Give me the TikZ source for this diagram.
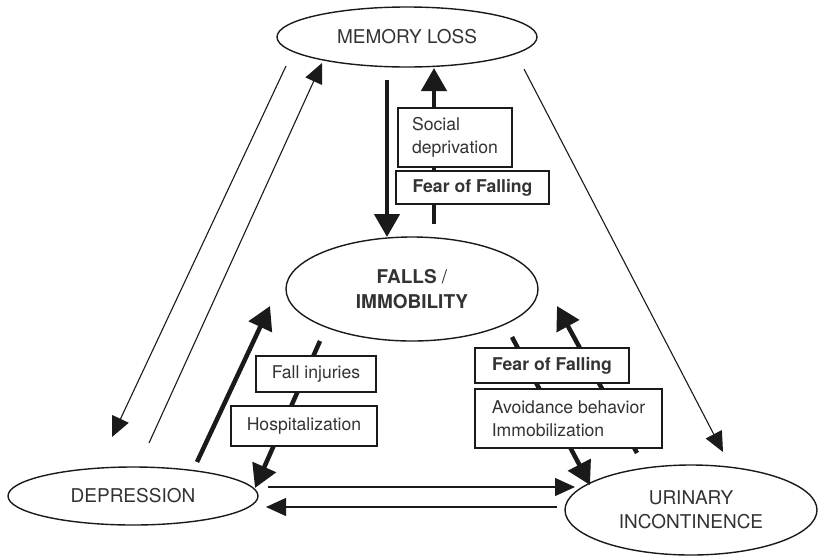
\documentclass[tikz,border=0pt]{standalone}
\usepackage{fontspec}
\setmainfont{TeX Gyre Heros}
\usetikzlibrary{arrows.meta,shapes.geometric}
\definecolor{ink}{HTML}{1A1A1A}
\definecolor{txt}{HTML}{333333}
\begin{document}
\begin{tikzpicture}[x=1pt,y=-1pt,
  state/.style={draw=ink,line width=1.4pt,ellipse,inner sep=0pt,fill=white,
    text=txt,align=center,font=\fontsize{19}{25}\selectfont},
  factor/.style={draw=ink,line width=1.2pt,rectangle,fill=white,inner sep=0pt,
    text=txt,align=left,font=\fontsize{17.6}{22.5}\selectfont},
  strong/.style={draw=ink,line width=4.5pt,
    -{Triangle[length=23pt,width=25pt]}},
  weak/.style={draw=ink,line width=1.1pt,
    -{Triangle[length=20pt,width=18pt]}}]
\useasboundingbox (0,0) rectangle (818,555);

% the four conditions
\node[state,minimum width=260pt,minimum height=60pt] (mem) at (407,37) {MEMORY LOSS};
\node[state,minimum width=252pt,minimum height=104pt] (fall) at (412,289)
  {\textbf{FALLS} /\\\textbf{IMMOBILITY}};
\node[state,minimum width=250pt,minimum height=58pt] (dep) at (133,496) {DEPRESSION};
\node[state,minimum width=252pt,minimum height=90pt,font=\fontsize{19}{24}\selectfont]
  (uri) at (691,510) {URINARY\\INCONTINENCE};

% connector end points
\coordinate (mfA) at (387,80);   \coordinate (mfB) at (387,237);
\coordinate (fmA) at (434,224);  \coordinate (fmB) at (434,68);
\coordinate (dfA) at (197,462);  \coordinate (dfB) at (270,306);
\coordinate (fdA) at (320,341);  \coordinate (fdB) at (255,488);
\coordinate (fuA) at (512,337);  \coordinate (fuB) at (590,485);
\coordinate (ufA) at (637,453);  \coordinate (ufB) at (557,306);
\coordinate (mdA) at (286,66);   \coordinate (mdB) at (112,437);
\coordinate (dmA) at (149,443);  \coordinate (dmB) at (322,63);
\coordinate (muA) at (524,69);   \coordinate (muB) at (723,452);
\coordinate (duA) at (268,487);  \coordinate (duB) at (575,487);
\coordinate (udA) at (557,507);  \coordinate (udB) at (266,507);

% links around the outer triangle
\draw[weak] (mdA) -- (mdB);
\draw[weak] (dmA) -- (dmB);
\draw[weak] (muA) -- (muB);
\draw[weak] (duA) -- (duB);
\draw[weak] (udA) -- (udB);

% links to and from falls / immobility
\draw[strong] (mfA) -- (mfB);
\draw[strong] (fmA) -- (fmB);
\draw[strong] (dfA) -- (dfB);
\draw[strong] (fdA) -- (fdB);
\draw[strong] (fuA) -- (fuB);
\draw[strong] (ufA) -- (ufB);

% mediating factors
\node[factor,minimum width=114pt,minimum height=59pt] (soc) at (455,137.5)
  {Social\\deprivation};
\node[factor,minimum width=153pt,minimum height=33pt] (fear1) at (472.5,187.5)
  {\textbf{Fear of Falling}};
\node[factor,minimum width=120pt,minimum height=36pt] (inj) at (316,374)
  {Fall injuries};
\node[factor,minimum width=146pt,minimum height=40pt] (hosp) at (304,426)
  {Hospitalization};
\node[factor,minimum width=154pt,minimum height=35pt] (fear2) at (552,365.5)
  {\textbf{Fear of Falling}};
\node[factor,minimum width=187pt,minimum height=59pt] (avoid) at (568.5,418.5)
  {Avoidance behavior\\Immobilization};
\end{tikzpicture}
\end{document}
